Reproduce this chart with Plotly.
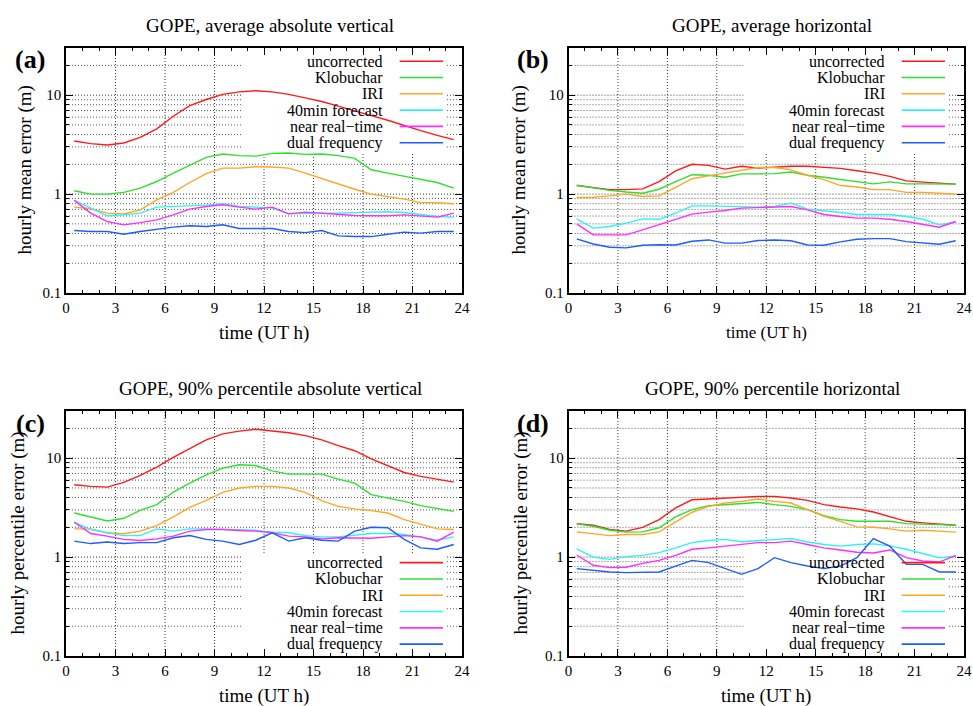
import math
import plotly.graph_objects as go

hours = [0.5, 1.5, 2.5, 3.5, 4.5, 5.5, 6.5, 7.5, 8.5, 9.5, 10.5, 11.5,
         12.5, 13.5, 14.5, 15.5, 16.5, 17.5, 18.5, 19.5, 20.5, 21.5, 22.5, 23.5]
series_names = ["uncorrected", "Klobuchar", "IRI", "40min forecast", "near real\u2212time", "dual frequency"]
series_colors = ["#ff1a1a", "#2ee02e", "#ffa526", "#2ef2f2", "#ff2eff", "#1f5cff"]
x_ticks = [0, 3, 6, 9, 12, 15, 18, 21, 24]
y_ticks = [0.1, 1, 10]
y_tick_text = ["0.1", "1", "10"]
y_minor = [0.2, 0.3, 0.4, 0.5, 0.6, 0.7, 0.8, 0.9, 2, 3, 4, 5, 6, 7, 8, 9, 20, 30]
x_grid = [3, 6, 9, 12, 15, 18, 21]
y_grid = [0.2, 0.3, 0.4, 0.5, 0.6, 0.7, 0.8, 0.9, 1, 2, 3, 4, 5, 6, 7, 8, 9, 10, 20]

panel_titles = ["GOPE, average absolute vertical", "GOPE, average horizontal",
                "GOPE, 90% percentile absolute vertical", "GOPE, 90% percentile horizontal"]
panel_labels = ["(a)", "(b)", "(c)", "(d)"]
y_titles = ["hourly mean error (m)", "hourly mean error (m)",
            "hourly percentile error (m)", "hourly percentile error (m)"]
x_title = "time (UT h)"

# (a) average absolute vertical
a_uncorrected = [3.44, 3.24, 3.14, 3.29, 3.75, 4.56, 6.12, 7.85, 9.04, 10.2, 10.8, 11.1,
                 10.8, 10.2, 9.4, 8.63, 7.74, 6.89, 6.22, 5.58, 4.93, 4.38, 3.93, 3.55]
a_klobuchar = [1.08, 1.0, 1.0, 1.04, 1.15, 1.34, 1.63, 1.97, 2.35, 2.54, 2.45, 2.42,
               2.58, 2.6, 2.52, 2.54, 2.45, 2.30, 1.76, 1.63, 1.51, 1.40, 1.31, 1.15]
a_iri = [0.738, 0.71, 0.642, 0.63, 0.693, 0.875, 1.04, 1.31, 1.61, 1.83, 1.83, 1.89,
         1.88, 1.83, 1.63, 1.43, 1.26, 1.12, 1.0, 0.947, 0.89, 0.82, 0.82, 0.80]
a_forecast = [0.863, 0.721, 0.603, 0.617, 0.642, 0.738, 0.75, 0.75, 0.774, 0.798, 0.75, 0.738,
              0.721, 0.631, 0.642, 0.642, 0.642, 0.651, 0.662, 0.662, 0.651, 0.622, 0.593, 0.585]
a_nrt = [0.863, 0.642, 0.528, 0.489, 0.515, 0.549, 0.617, 0.705, 0.75, 0.78, 0.738, 0.705,
         0.738, 0.631, 0.657, 0.642, 0.617, 0.607, 0.603, 0.603, 0.617, 0.603, 0.585, 0.642]
a_dual = [0.428, 0.418, 0.418, 0.393, 0.418, 0.442, 0.463, 0.478, 0.47, 0.489, 0.449, 0.449,
          0.449, 0.418, 0.408, 0.428, 0.378, 0.372, 0.372, 0.393, 0.412, 0.403, 0.418, 0.418]

# (b) average horizontal
b_uncorrected = [1.22, 1.17, 1.11, 1.11, 1.13, 1.34, 1.72, 2.0, 1.95, 1.79, 1.91, 1.83,
                 1.88, 1.91, 1.91, 1.88, 1.82, 1.72, 1.63, 1.51, 1.36, 1.32, 1.28, 1.26]
b_klobuchar = [1.23, 1.16, 1.09, 1.05, 1.02, 1.12, 1.34, 1.57, 1.55, 1.48, 1.6, 1.6,
               1.61, 1.67, 1.55, 1.48, 1.40, 1.32, 1.27, 1.33, 1.27, 1.27, 1.27, 1.26]
b_iri = [0.925, 0.93, 0.96, 1.0, 0.947, 0.96, 1.17, 1.43, 1.53, 1.63, 1.76, 1.86,
         1.86, 1.76, 1.55, 1.40, 1.22, 1.18, 1.11, 1.11, 1.04, 1.04, 1.02, 1.0]
b_forecast = [0.562, 0.453, 0.47, 0.508, 0.562, 0.556, 0.642, 0.76, 0.76, 0.75, 0.738, 0.738,
              0.75, 0.81, 0.705, 0.682, 0.651, 0.622, 0.622, 0.622, 0.593, 0.557, 0.489, 0.52]
b_nrt = [0.5, 0.387, 0.387, 0.387, 0.435, 0.489, 0.549, 0.627, 0.657, 0.682, 0.721, 0.733,
         0.733, 0.75, 0.693, 0.622, 0.593, 0.571, 0.571, 0.557, 0.528, 0.497, 0.463, 0.528]
b_dual = [0.352, 0.313, 0.29, 0.286, 0.304, 0.308, 0.306, 0.334, 0.344, 0.319, 0.319, 0.339,
          0.344, 0.337, 0.306, 0.304, 0.329, 0.35, 0.355, 0.355, 0.331, 0.323, 0.311, 0.337]

# (c) 90% percentile absolute vertical
c_uncorrected = [5.39, 5.19, 5.1, 5.69, 6.69, 8.12, 10.2, 12.6, 15.3, 17.6, 18.8, 19.6,
                 19.0, 18.1, 16.9, 15.3, 13.4, 11.9, 9.85, 8.37, 7.17, 6.54, 6.15, 5.73]
c_klobuchar = [2.79, 2.55, 2.32, 2.47, 2.97, 3.39, 4.55, 5.6, 6.79, 7.93, 8.57, 8.43,
               7.45, 6.9, 6.9, 6.9, 6.15, 5.6, 4.28, 3.96, 3.66, 3.31, 3.09, 2.9]
c_iri = [1.93, 1.93, 1.76, 1.72, 1.83, 2.08, 2.55, 3.19, 3.75, 4.51, 4.99, 5.19,
         5.19, 4.99, 4.51, 3.72, 3.26, 3.07, 2.95, 2.79, 2.39, 2.13, 1.93, 1.9]
c_forecast = [2.25, 1.9, 1.76, 1.65, 1.65, 1.93, 1.83, 1.93, 1.93, 1.9, 1.9, 1.87,
              1.79, 1.76, 1.65, 1.6, 1.6, 1.65, 1.73, 1.73, 1.69, 1.6, 1.48, 1.6]
c_nrt = [2.25, 1.73, 1.63, 1.51, 1.47, 1.53, 1.63, 1.83, 1.9, 1.9, 1.86, 1.83,
         1.76, 1.63, 1.6, 1.53, 1.57, 1.55, 1.55, 1.6, 1.65, 1.6, 1.45, 1.79]
c_dual = [1.45, 1.37, 1.42, 1.37, 1.4, 1.4, 1.57, 1.65, 1.51, 1.45, 1.34, 1.48,
          1.76, 1.45, 1.57, 1.48, 1.45, 1.83, 2.0, 1.98, 1.51, 1.24, 1.2, 1.34]

# (d) 90% percentile horizontal
d_uncorrected = [2.18, 2.1, 1.9, 1.83, 2.0, 2.39, 3.14, 3.8, 3.87, 3.96, 4.05, 4.11,
                 4.11, 3.96, 3.74, 3.39, 3.21, 3.07, 2.86, 2.58, 2.3, 2.22, 2.17, 2.1]
d_klobuchar = [2.17, 2.05, 1.87, 1.79, 1.8, 1.98, 2.55, 3.02, 3.31, 3.39, 3.47, 3.57,
               3.39, 3.26, 3.02, 2.63, 2.39, 2.3, 2.3, 2.3, 2.18, 2.17, 2.13, 2.1]
d_iri = [1.8, 1.73, 1.65, 1.69, 1.69, 1.8, 2.25, 2.84, 3.26, 3.52, 3.66, 3.87,
         3.66, 3.52, 3.02, 2.58, 2.3, 2.02, 2.0, 1.93, 1.83, 1.87, 1.83, 1.79]
d_forecast = [1.21, 1.0, 0.948, 1.01, 1.04, 1.11, 1.24, 1.4, 1.47, 1.51, 1.43, 1.47,
              1.51, 1.54, 1.42, 1.34, 1.29, 1.34, 1.36, 1.3, 1.2, 1.09, 0.986, 1.02]
d_nrt = [1.05, 0.826, 0.782, 0.79, 0.865, 0.927, 1.04, 1.2, 1.24, 1.29, 1.34, 1.4,
         1.4, 1.45, 1.34, 1.24, 1.18, 1.12, 1.1, 1.18, 0.986, 0.912, 0.891, 1.04]
d_dual = [0.764, 0.74, 0.707, 0.697, 0.697, 0.707, 0.812, 0.927, 0.879, 0.764, 0.67, 0.764,
          0.986, 0.879, 0.812, 0.764, 0.812, 0.986, 1.54, 1.29, 0.845, 0.845, 0.707, 0.707]

panel_series = [
    [a_uncorrected, a_klobuchar, a_iri, a_forecast, a_nrt, a_dual],
    [b_uncorrected, b_klobuchar, b_iri, b_forecast, b_nrt, b_dual],
    [c_uncorrected, c_klobuchar, c_iri, c_forecast, c_nrt, c_dual],
    [d_uncorrected, d_klobuchar, d_iri, d_forecast, d_nrt, d_dual],
]

W, H = 973, 706
FONT = "Liberation Serif"
X_RANGE = [0, 24]
Y_RANGE = [-1, math.log10(30)]
# plot-area boxes in pixels: (left, right, top, bottom)
boxes = [(66, 462, 48, 293), (568.5, 964, 48, 293),
         (66, 462, 411, 656), (568.5, 964, 411, 656)]
legend_top = [True, True, False, False]
LEG_X0, LEG_X1 = 0.442, 0.962

fig = go.Figure()
annotations = []
shapes = []
layout_axes = {}
GRID_MAJOR = dict(color="#3a3a3a", width=1, dash="1px,2px")
GRID_MINOR = dict(color="#5a5a5a", width=1, dash="1px,2px")


def xfrac(v):
    return (v - X_RANGE[0]) / (X_RANGE[1] - X_RANGE[0])


def yfrac(v):
    return (math.log10(v) - Y_RANGE[0]) / (Y_RANGE[1] - Y_RANGE[0])


for i in range(4):
    sfx = "" if i == 0 else str(i + 1)
    xa, ya = "x" + sfx, "y" + sfx
    xr, yr = xa + " domain", ya + " domain"
    L, R, T, B = boxes[i]
    xdom = [L / W, R / W]
    ydom = [1 - B / H, 1 - T / H]
    layout_axes["xaxis" + sfx] = dict(
        domain=xdom, anchor=ya, range=X_RANGE, tickvals=x_ticks, ticks="inside", ticklen=7,
        tickcolor="black", showline=True, linecolor="black", linewidth=1.5, mirror="allticks",
        zeroline=False, showgrid=False, automargin=False,
        tickfont=dict(family=FONT, size=15, color="black"),
        minor=dict(dtick=1, ticklen=3.5, tickcolor="black", ticks="inside", showgrid=False))
    layout_axes["yaxis" + sfx] = dict(
        domain=ydom, anchor=xa, type="log", range=Y_RANGE,
        tickvals=y_ticks, ticktext=y_tick_text, ticks="inside", ticklen=7, tickcolor="black",
        showline=True, linecolor="black", linewidth=1.5, mirror="allticks", zeroline=False,
        showgrid=False, automargin=False, tickfont=dict(family=FONT, size=15, color="black"),
        minor=dict(tickvals=y_minor, ticklen=3.5, tickcolor="black", ticks="inside",
                   showgrid=False))

    # legend area (grid hidden there)
    if legend_top[i]:
        ly0, ly1 = 0.5755, 1.0
    else:
        ly0, ly1 = 0.0, 0.42

    # grid lines, split around the legend area
    for gv in y_grid:
        f = yfrac(gv)
        st = GRID_MAJOR if gv in y_ticks else GRID_MINOR
        if ly0 <= f <= ly1:
            segs = [(0, LEG_X0), (LEG_X1, 1)]
        else:
            segs = [(0, 1)]
        for s0, s1 in segs:
            shapes.append(dict(type="line", xref=xr, yref=yr, x0=s0, x1=s1, y0=f, y1=f,
                               line=st, layer="below"))
    for gv in x_grid:
        f = xfrac(gv)
        if LEG_X0 <= f <= LEG_X1:
            segs = [(0, ly0)] if legend_top[i] else [(ly1, 1)]
        else:
            segs = [(0, 1)]
        for s0, s1 in segs:
            shapes.append(dict(type="line", xref=xr, yref=yr, x0=f, x1=f, y0=s0, y1=s1,
                               line=GRID_MAJOR, layer="below"))

    for vals, name, col in zip(panel_series[i], series_names, series_colors):
        fig.add_trace(go.Scatter(x=hours, y=vals, mode="lines", name=name, xaxis=xa, yaxis=ya,
                                 line=dict(color=col, width=1.4), showlegend=False))

    row0 = 0.946 if legend_top[i] else 0.381
    for k, (name, col) in enumerate(zip(series_names, series_colors)):
        yy = row0 - k * 0.0665
        annotations.append(dict(text=name, xref=xr, yref=yr,
                                x=0.805, y=yy, xanchor="right", yanchor="middle", showarrow=False,
                                font=dict(family=FONT, size=16, color="black")))
        shapes.append(dict(type="line", xref=xr, yref=yr,
                           x0=0.8425, x1=0.952, y0=yy, y1=yy,
                           line=dict(color=col, width=1.6), layer="above"))

    # titles and labels
    cx = (L + R) / 2 + 6
    ty = T - 23
    annotations.append(dict(text=panel_titles[i], xref="paper", yref="paper", x=cx / W,
                            y=1 - ty / H, xanchor="center", yanchor="middle", showarrow=False,
                            font=dict(family=FONT, size=19, color="black")))
    annotations.append(dict(text="<b>" + panel_labels[i] + "</b>", xref="paper", yref="paper",
                            x=(L - 36) / W, y=1 - (T + 12) / H, xanchor="center", yanchor="middle",
                            showarrow=False, font=dict(family=FONT, size=26, color="black")))
    ytx = [25, 519, 17, 520][i]
    annotations.append(dict(text=y_titles[i], xref="paper", yref="paper", x=ytx / W,
                            y=1 - ((T + B) / 2) / H, xanchor="center", yanchor="middle",
                            textangle=-90, showarrow=False,
                            font=dict(family=FONT, size=19, color="black")))
    annotations.append(dict(text=x_title, xref="paper", yref="paper", x=((L + R) / 2) / W,
                            y=1 - (B + 40) / H, xanchor="center", yanchor="middle",
                            showarrow=False,
                            font=dict(family=FONT, size=19 if i != 1 else 17, color="black")))

fig.update_layout(
    width=W, height=H, margin=dict(l=0, r=0, t=0, b=0, autoexpand=False),
    paper_bgcolor="white", plot_bgcolor="white", showlegend=False,
    annotations=annotations, shapes=shapes, **layout_axes)

fig.write_html("out.html")
